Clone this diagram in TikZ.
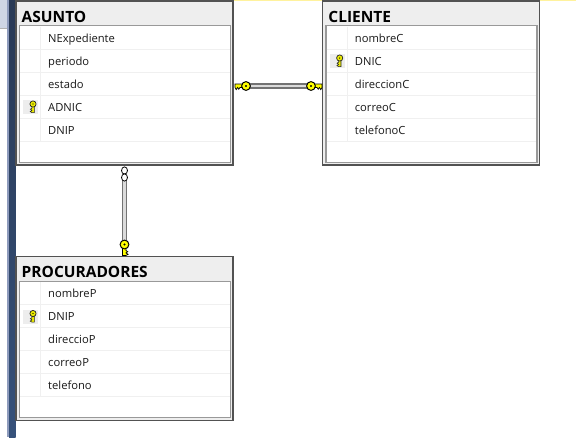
\documentclass[tikz,border=0pt]{standalone}
\usepackage{fontspec}
\setmainfont{Open Sans}
\usetikzlibrary{calc}
\definecolor{navytop}{HTML}{293955}
\definecolor{navybot}{HTML}{36517A}
\definecolor{panel}{HTML}{CFD6E5}
\definecolor{strip}{HTML}{8E9BBC}
\definecolor{topline}{HTML}{FFF29D}
\definecolor{titlebg}{HTML}{EEEEEE}
\definecolor{keyy}{HTML}{FFFF00}
\tikzset{
  x=1pt,y=-1pt,
  outerbox/.style={draw=black!68,line width=1.3pt,fill=titlebg,minimum width=217pt,minimum height=164pt,anchor=north west,inner sep=0pt,outer sep=0pt},
  innerbox/.style={draw=black!40,line width=1.3pt,fill=white,minimum width=211pt,minimum height=136.5pt,anchor=north west,inner sep=0pt,outer sep=0pt},
  titletext/.style={anchor=base west,inner sep=0pt,font=\bfseries\fontsize{15.5}{17}\selectfont,text=black},
  fieldtext/.style={anchor=base west,inner sep=0pt,font=\fontsize{11.2}{13}\selectfont,text=black!90},
  sepline/.style={draw=black!6,line width=1pt},
  relbar/.style={draw=black!55,line width=1.6pt,double=black!14,double distance=2.2pt,line cap=butt},
  inflink/.style={draw=black,fill=white,line width=.8pt},
  pics/keyglyph/.style={code={
    \draw[fill=keyy,draw=black,line width=.7pt,line join=miter]
      (3.5,-2) -- (11,-2) -- (11,1.4) -- (9.8,3.6) -- (8.4,1.4) -- (7.2,3.2) -- (6,1.4) -- (3.5,1.4) -- cycle;
    \draw[fill=keyy,draw=black,line width=1pt] (0,0) circle[radius=4.4];
    \fill[black] (0,0) circle[radius=1.1];
  }},
  pics/smallkey/.style={code={
    \fill[black!7] (-4,-5) rectangle (10,10);
    \draw[fill=keyy!92!black,draw=black!85,line width=.6pt]
      (2.2,-1.3) -- (8.6,-1.3) -- (8.6,1.1) -- (7.6,2.8) -- (6.4,1.1) -- (5.2,2.6) -- (4.2,1.1) -- (2.2,1.1) -- cycle;
    \draw[fill=keyy!92!black,draw=black!85,line width=.7pt] (0,0) circle[radius=3.1];
    \fill[black] (0,0) circle[radius=.7];
  }}
}
% name, left x, top y, title, key row (0 = none), field list
\newcommand{\dbtable}[6]{%
  \node[outerbox] (#1) at (#2,#3) {};
  \node[innerbox] (#1-in) at ($(#1.north west)+(3.3,24.7)$) {};
  \node[titletext] (#1-title) at ($(#1.north west)+(5.5,21.2)$) {#4};
  \foreach \f [count=\i] in {#6}{
    \pgfmathsetmacro{\yy}{#3+23*\i+25.3}
    \draw[sepline] (#2+4,\yy) -- (#2+213.5,\yy);
    \pgfmathsetmacro{\yt}{#3+23*\i+18}
    \ifnum\i=#5\relax
      \pic[rotate=-90] at (#2+17,\yt-7) {smallkey};
    \fi
    \node[fieldtext] (#1-\i) at (#2+32,\yt) {\f};
  }
  \draw[sepline] (#2+24.4,#3+25.5) -- (#2+24.4,#3+140.3);
}
\begin{document}
\begin{tikzpicture}
\useasboundingbox (0,0) rectangle (576,437);
\fill[white] (0,0) rectangle (576,437);
% window chrome
\fill[panel] (0,0) rectangle (7.5,28);
\draw[black!30,line width=.8pt] (0,28.4) -- (7.5,28.4);
\fill[strip] (7,0) rectangle (9,437);
\shade[top color=navytop,bottom color=navybot] (9,0) rectangle (15.5,437);
\fill[topline] (16,0) rectangle (576,1.4);
% tables
\dbtable{asunto}{16}{1}{ASUNTO}{4}{NExpediente,periodo,estado,ADNIC,DNIP}
\dbtable{cliente}{322.7}{1}{CLIENTE}{2}{nombreC,DNIC,direccionC,correoC,telefonoC}
\dbtable{procu}{16}{256.5}{PROCURADORES}{2}{nombreP,DNIP,direccioP,correoP,telefono}
% relationship ASUNTO - CLIENTE
\coordinate (relA) at (246,86);
\coordinate (relC) at (311,86);
\draw[relbar] (relA) -- (relC);
\pic[rotate=180,yscale=-1] at (relA) {keyglyph};
\pic at (relC) {keyglyph};
% relationship ASUNTO - PROCURADORES
\coordinate (relB) at (124.5,177.5);
\coordinate (relP) at (124.5,244.5);
\draw[relbar] (relB) -- (relP);
\draw[inflink] (124.5,170.5) ellipse[x radius=3,y radius=3.6];
\draw[inflink] (relB) ellipse[x radius=3,y radius=3.6];
\pic[rotate=-90,yscale=-1] at (relP) {keyglyph};
\end{tikzpicture}
\end{document}
